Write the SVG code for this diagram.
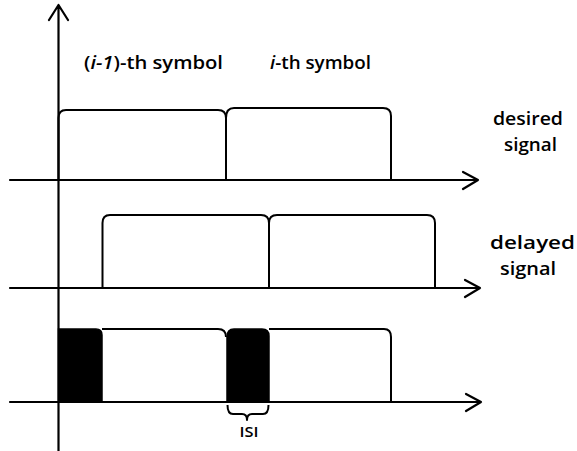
<svg xmlns="http://www.w3.org/2000/svg" width="577" height="451" viewBox="0 0 577 451">
<style>
.ax{fill:none;stroke:#000;stroke-width:2.2;stroke-linecap:round;stroke-linejoin:round}
.pl{fill:none;stroke:#000;stroke-width:2;stroke-linejoin:round}
.blk{fill:#000;stroke:#000;stroke-width:1.5}
.t{font-family:"Open Sans","DejaVu Sans",sans-serif;fill:#000;font-weight:600}
</style>
<rect width="577" height="451" fill="#fff"/>
<g id="connectors">
<path class="ax" d="M58.5,451 V5 M49,20 L58.5,5 L68,20"/>
<path class="ax" d="M10,180 H478 M463,172 L478,180 L463,189"/>
<path class="ax" d="M10,288 H480 M465,280 L480,288 L465,297"/>
<path class="ax" d="M10,402 H481 M466,394 L481,402 L466,411"/>
</g>
<g id="desired-signal">
<path class="pl" d="M58.5,180 V118 Q58.5,110 66,110 H218 Q226,110 226,118 V180"/>
<path class="pl" d="M226,118 Q226,108 234,108 H383 Q391,108 391,116 V180"/>
</g>
<g id="delayed-signal">
<path class="pl" d="M102.5,288 V223 Q102.5,215 110,215 H261 Q269,215 269,223 V288"/>
<path class="pl" d="M269,223 Q269,215 277,215 H427 Q435,215 435,223 V288"/>
</g>
<g id="received-signal">
<path class="blk" d="M58.5,402 V329 H96 Q102,329 102,335 V402 Z"/>
<path class="pl" d="M102,329 H218 Q226,329 226,337"/>
<path class="blk" d="M227,402 V337 Q227,329 234,329 H262 Q269,329 269,336 V402 Z"/>
<path class="pl" d="M269,329 H384 Q391,329 391,337 V402"/>
</g>
<g id="isi">
<path class="pl" stroke-width="1.8" d="M227.5,405 Q227.5,414 233,414 H242 Q247,414 247,420 Q247,414 252,414 H263 Q268.5,414 268.5,405"/>
<text class="t" x="249" y="437" font-size="15" font-weight="700" text-anchor="middle" textLength="19" lengthAdjust="spacingAndGlyphs">ISI</text>
</g>
<g id="labels">
<text class="t" x="84" y="69" font-size="18" textLength="139" lengthAdjust="spacingAndGlyphs">(<tspan font-style="italic">i-1</tspan>)-th symbol</text>
<text class="t" x="270" y="69" font-size="18" textLength="101" lengthAdjust="spacingAndGlyphs"><tspan font-style="italic">i</tspan>-th symbol</text>
<text class="t" x="493" y="125" font-size="18" textLength="70" lengthAdjust="spacingAndGlyphs">desired</text>
<text class="t" x="504" y="151" font-size="18" textLength="53" lengthAdjust="spacingAndGlyphs">signal</text>
<text class="t" x="490" y="249" font-size="18" textLength="85" lengthAdjust="spacingAndGlyphs">delayed</text>
<text class="t" x="500" y="275" font-size="18" textLength="56" lengthAdjust="spacingAndGlyphs">signal</text>
</g>
</svg>
